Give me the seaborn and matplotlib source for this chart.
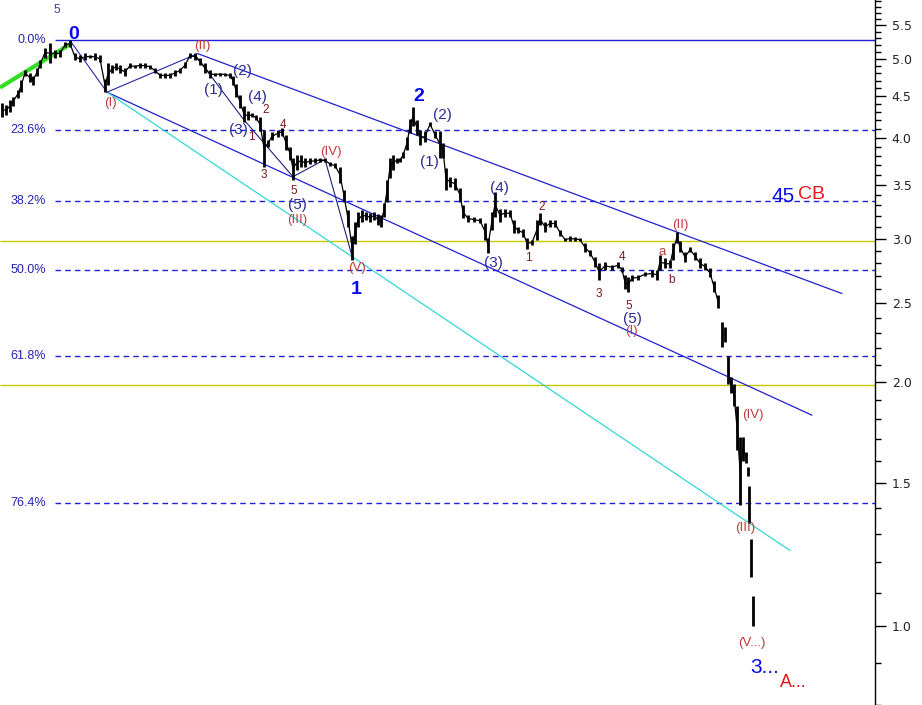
import numpy as np
import pandas as pd
import matplotlib
matplotlib.use("Agg")
import matplotlib.pyplot as plt
import matplotlib.ticker as mticker
import seaborn as sns

# ---------------- data ----------------
bar_day = [2, 6, 10, 13, 18, 21, 25, 30, 33, 37, 40, 45, 50, 55, 60, 65, 70, 75, 80, 85,
           90, 95, 100, 105, 108, 112, 116, 120, 125, 130, 135, 140, 145, 150, 155, 160, 165, 170, 175, 180,
           185, 190, 195, 200, 205, 210, 215, 220, 225, 230, 233, 236, 240, 244, 248, 252, 256, 260, 264, 268,
           272, 278, 282, 286, 290, 293, 297, 301, 305, 310, 315, 320, 325, 330, 335, 340, 344, 348, 352, 355,
           358, 362, 366, 370, 374, 378, 381, 384, 387, 390, 393, 397, 400, 403, 407, 410, 413, 417, 420, 425,
           430, 435, 440, 443, 446, 450, 455, 460, 463, 468, 474, 480, 485, 488, 492, 495, 500, 505, 510, 514,
           518, 523, 527, 532, 537, 540, 545, 550, 555, 560, 565, 570, 575, 580, 585, 590, 595, 599, 605, 612,
           618, 622, 625, 628, 632, 638, 645, 652, 657, 660, 665, 670, 673, 677, 680, 685, 690, 695, 700, 705,
           710, 714, 718, 722, 725, 728, 731, 734, 737, 740, 743, 746, 748, 749, 751, 753]
bar_high = [4.41, 4.39, 4.45, 4.49, 4.58, 4.71, 4.84, 4.80, 4.77, 4.87, 4.98, 5.16, 5.23, 5.13, 5.13, 5.24, 5.27, 5.08, 5.05, 5.08,
            5.05, 5.08, 5.05, 4.73, 4.94, 4.91, 4.94, 4.91, 4.87, 4.94, 4.92, 4.94, 4.94, 4.92, 4.87, 4.81, 4.80, 4.81, 4.84, 4.88,
            4.95, 5.08, 5.08, 5.02, 4.94, 4.84, 4.81, 4.81, 4.81, 4.80, 4.77, 4.66, 4.51, 4.37, 4.31, 4.29, 4.26, 4.24, 4.09, 3.97,
            4.06, 4.09, 4.11, 4.03, 3.90, 3.78, 3.81, 3.81, 3.77, 3.77, 3.77, 3.78, 3.77, 3.73, 3.72, 3.68, 3.45, 3.26, 3.03, 3.15,
            3.24, 3.26, 3.24, 3.23, 3.24, 3.22, 3.21, 3.32, 3.55, 3.78, 3.81, 3.78, 3.78, 3.84, 4.01, 4.22, 4.36, 4.20, 4.09, 4.07,
            4.18, 4.07, 4.07, 3.94, 3.67, 3.58, 3.57, 3.47, 3.30, 3.21, 3.19, 3.18, 3.14, 3.01, 3.24, 3.43, 3.27, 3.27, 3.26, 3.17,
            3.10, 3.09, 3.01, 2.99, 3.17, 3.23, 3.15, 3.17, 3.17, 3.08, 3.01, 3.03, 3.02, 3.01, 2.97, 2.91, 2.85, 2.80, 2.81, 2.79,
            2.81, 2.77, 2.71, 2.69, 2.71, 2.71, 2.73, 2.75, 2.75, 2.87, 2.84, 2.83, 2.97, 3.06, 2.98, 2.89, 2.93, 2.89, 2.84, 2.80,
            2.76, 2.66, 2.56, 2.37, 2.34, 2.15, 2.03, 1.99, 1.87, 1.71, 1.71, 1.64, 1.57, 1.49, 1.28, 1.09]
bar_low = [4.24, 4.26, 4.30, 4.37, 4.48, 4.55, 4.77, 4.68, 4.64, 4.76, 4.87, 5.02, 4.94, 5.02, 5.03, 5.17, 5.17, 4.98, 4.95, 4.98,
           5.02, 4.98, 4.95, 4.55, 4.64, 4.81, 4.84, 4.80, 4.77, 4.87, 4.87, 4.88, 4.87, 4.86, 4.80, 4.74, 4.74, 4.74, 4.77, 4.80,
           4.87, 5.02, 4.98, 4.91, 4.81, 4.74, 4.76, 4.77, 4.76, 4.74, 4.64, 4.49, 4.35, 4.18, 4.20, 4.24, 4.20, 4.07, 3.68, 3.90,
           3.97, 4.01, 4.02, 3.86, 3.75, 3.55, 3.65, 3.68, 3.68, 3.71, 3.72, 3.73, 3.73, 3.69, 3.67, 3.52, 3.33, 3.10, 2.83, 2.96,
           3.10, 3.15, 3.17, 3.15, 3.17, 3.12, 3.10, 3.19, 3.33, 3.57, 3.65, 3.72, 3.73, 3.77, 3.86, 4.05, 4.13, 4.03, 3.92, 3.95,
           4.13, 4.00, 3.78, 3.78, 3.45, 3.48, 3.45, 3.33, 3.18, 3.15, 3.15, 3.14, 2.99, 2.88, 3.08, 3.19, 3.15, 3.19, 3.19, 3.05,
           3.05, 3.02, 2.92, 2.95, 2.99, 3.12, 3.06, 3.10, 3.10, 3.03, 2.98, 2.98, 2.98, 2.98, 2.89, 2.86, 2.77, 2.67, 2.75, 2.75,
           2.76, 2.73, 2.60, 2.58, 2.66, 2.67, 2.70, 2.69, 2.67, 2.75, 2.76, 2.76, 2.83, 2.97, 2.89, 2.81, 2.89, 2.83, 2.76, 2.75,
           2.69, 2.58, 2.47, 2.21, 2.24, 1.99, 1.94, 1.87, 1.65, 1.41, 1.60, 1.59, 1.53, 1.34, 1.15, 1.00]

fib_labels = ["0.0%", "23.6%", "38.2%", "50.0%", "61.8%", "76.4%"]
fib_levels = [5.27, 4.09, 3.34, 2.75, 2.15, 1.42]
yellow_levels = [2.98, 1.985]

# trend / channel lines: (day0, price0, day1, price1)
upper_channel = (197, 5.08, 842, 2.57)
lower_channel = (107, 4.55, 812, 1.82)
cyan_line = (107, 4.55, 790, 1.24)
green_line = (0, 4.61, 72, 5.23)
zigzag_day = [70, 107, 195]
zigzag_price = [5.27, 4.55, 5.06]
zigzag2_day = [195, 243, 293, 325, 353]
zigzag2_price = [5.06, 4.22, 3.58, 3.76, 2.83]

# wave labels: text, day, price, style
labels = [
    ("0", 74, 5.36, "big"), ("5", 57, 5.74, "slate"),
    ("(I)", 110, 4.41, "red"), ("(II)", 202, 5.18, "red"),
    ("(1)", 213, 4.58, "navy"), ("(2)", 242, 4.83, "navy"), ("(4)", 257, 4.49, "navy"),
    ("2", 266, 4.33, "small"), ("(3)", 238, 4.09, "navy"), ("1", 251, 4.01, "small"),
    ("4", 283, 4.14, "small"), ("3", 264, 3.60, "small"), ("5", 294, 3.44, "small"),
    ("(5)", 297, 3.30, "navy"), ("(III)", 297, 3.17, "red"), ("(IV)", 331, 3.84, "red"),
    ("(V)", 357, 2.76, "red"), ("1", 356, 2.60, "big"), ("2", 419, 4.50, "big"),
    ("(2)", 442, 4.26, "navy"), ("(1)", 429, 3.73, "navy"), ("(4)", 499, 3.47, "navy"),
    ("(3)", 493, 2.80, "navy"), ("1", 528, 2.84, "small"), ("2", 542, 3.29, "small"),
    ("3", 599, 2.57, "small"), ("4", 622, 2.85, "small"), ("5", 629, 2.48, "small"),
    ("(5)", 632, 2.39, "navy"), ("(I)", 631, 2.31, "red"), ("a", 662, 2.89, "red"),
    ("b", 672, 2.67, "small"), ("(II)", 680, 3.12, "red"),
    ("(IV)", 753, 1.82, "red"), ("(III)", 745, 1.32, "red"), ("(V...)", 752, 0.953, "red"),
]
price_ticks = [1.0, 1.5, 2.0, 2.5, 3.0, 3.5, 4.0, 4.5, 5.0, 5.5]

# ---------------- plot ----------------
sns.set_style("white")
plt.rcParams["font.family"] = ["Liberation Sans", "DejaVu Sans"]

fig = plt.figure(figsize=(9.22, 7.05), dpi=100)
ax = fig.add_axes([0, 0, 875 / 922, 1])
ax.set_yscale("log")
ax.set_xlim(0, 875)
ax.set_ylim(0.80, 5.91)

# horizontal levels
ax.hlines(fib_levels[0], 55, 875, color="#1f1fe0", lw=1.0)
ax.hlines(fib_levels[1:], 55, 875, color="#1f1fe0", lw=1.0, linestyles=(0, (4, 3)))
ax.hlines(yellow_levels, 0, 875, color="#c8c800", lw=1.0)
for t, v in zip(fib_labels, fib_levels):
    ax.text(46, v, t, ha="right", va="center", fontsize=9, color="#2323b4")

def seg(l, **kw):
    ax.plot([l[0], l[2]], [l[1], l[3]], **kw)

seg(upper_channel, color="#2020d0", lw=0.9)
seg(lower_channel, color="#2020d0", lw=0.9)
seg(cyan_line, color="#33d6d6", lw=0.9)
seg(green_line, color="#33dd22", lw=3.0, solid_capstyle="butt")
ax.plot(zigzag_day, zigzag_price, color="#2828a8", lw=0.8)
ax.plot(zigzag2_day, zigzag2_price, color="#20207a", lw=0.8)

# price bars
df = pd.DataFrame({"day": bar_day, "high": bar_high, "low": bar_low})
df["mid"] = (df["high"] + df["low"]) / 2
gap = (df["high"] < df["low"].shift(1)) & (df["day"] > 719)
df["seg"] = gap.cumsum()
sns.lineplot(data=df, x="day", y="mid", units="seg", estimator=None,
             color="black", lw=0.9, ax=ax)
ax.vlines(df["day"], df["low"], df["high"], color="black", lw=2.0)

styles = {
    "big": dict(fontsize=14, color="#0a0ae6", fontweight="bold"),
    "slate": dict(fontsize=8.5, color="#3c3c8c"),
    "red": dict(fontsize=9.5, color="#c03a3a"),
    "navy": dict(fontsize=11, color="#2c2c96"),
    "small": dict(fontsize=8.5, color="#7a1a1a"),
}
for t, d, p, s in labels:
    ax.text(d, p, t, ha="center", va="center", **styles[s])

ax.text(783, 3.38, "45", ha="center", va="center", fontsize=15, color="#0a0ae6")
ax.text(811, 3.40, "CB", ha="center", va="center", fontsize=14, color="#e81818")
ax.text(765, 0.89, "3...", ha="center", va="center", fontsize=15, color="#0a0ae6")
ax.text(793, 0.853, "A...", ha="center", va="center", fontsize=13, color="#e01414")

# axes styling
for s in ["top", "left", "bottom"]:
    ax.spines[s].set_visible(False)
ax.spines["right"].set_color("black")
ax.spines["right"].set_linewidth(1.0)
ax.xaxis.set_visible(False)
ax.yaxis.tick_right()
ax.yaxis.set_major_locator(mticker.FixedLocator(price_ticks))
ax.yaxis.set_major_formatter(mticker.FixedFormatter([f"{v:.1f}" for v in price_ticks]))
ax.yaxis.set_minor_locator(mticker.FixedLocator([round(0.8 + 0.1 * i, 1) for i in range(52)]))
ax.yaxis.set_minor_formatter(mticker.NullFormatter())
ax.tick_params(axis="y", which="major", length=8, width=1, labelsize=9, pad=4, colors="black", labelcolor="#222222")
ax.tick_params(axis="y", which="minor", length=4, width=1, colors="black")
for lab in ax.get_yticklabels():
    lab.set_fontfamily("DejaVu Sans")
ax.set_ylabel("")
ax.set_xlabel("")

fig.savefig("out.png", dpi=100)
